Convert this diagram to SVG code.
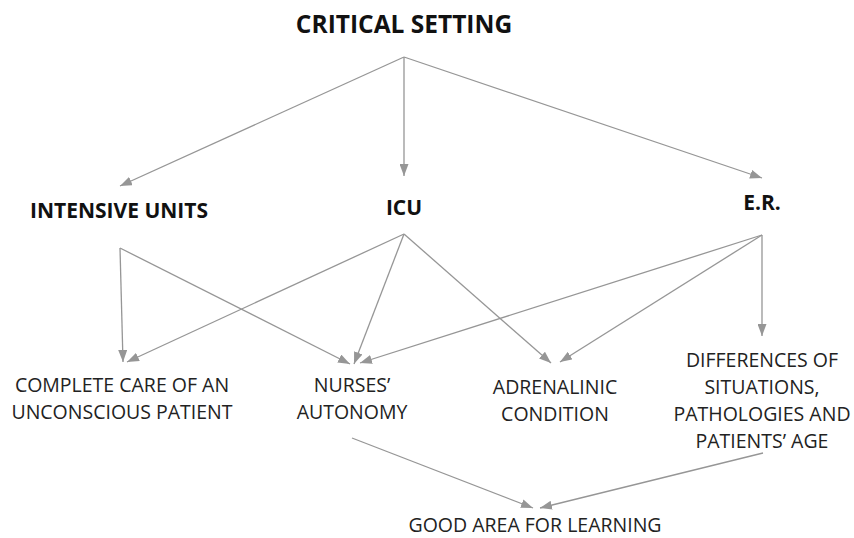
<svg xmlns="http://www.w3.org/2000/svg" width="854" height="538" viewBox="0 0 854 538">
<defs>
<marker id="ah" markerWidth="12" markerHeight="9" refX="12" refY="4.5" orient="auto" markerUnits="userSpaceOnUse">
<path d="M0,0 L12,4.5 L0,9 z" fill="#969696"/>
</marker>
<style>
.e{stroke:#969696;stroke-width:1.3;fill:none;marker-end:url(#ah)}
.h{font-family:"Open Sans","Liberation Sans",sans-serif;font-weight:bold;fill:#111;text-anchor:middle;font-size:21px}
.t{font-family:"Open Sans","Liberation Sans",sans-serif;fill:#222;text-anchor:middle;font-size:19.5px}
</style>
</defs>
<rect width="854" height="538" fill="#fff"/>
<g id="connectors">
<line class="e" x1="404" y1="57" x2="120" y2="186"/>
<line class="e" x1="404" y1="57" x2="404" y2="176"/>
<line class="e" x1="404" y1="57" x2="762" y2="178"/>
<line class="e" x1="120" y1="248" x2="123" y2="362"/>
<line class="e" x1="120" y1="248" x2="350" y2="364"/>
<line class="e" x1="404" y1="234" x2="127" y2="362"/>
<line class="e" x1="404" y1="234" x2="354" y2="364"/>
<line class="e" x1="404" y1="234" x2="551" y2="363"/>
<line class="e" x1="762" y1="235" x2="360" y2="363"/>
<line class="e" x1="762" y1="235" x2="560" y2="362"/>
<line class="e" x1="762" y1="235" x2="762" y2="336"/>
<line class="e" x1="352" y1="438" x2="533" y2="508"/>
<line class="e" x1="763" y1="453" x2="540" y2="508"/>
</g>
<g id="critical-setting"><text class="h" x="404" y="33" style="font-size:24.5px">CRITICAL SETTING</text></g>
<g id="intensive-units"><text class="h" x="119" y="218">INTENSIVE UNITS</text></g>
<g id="icu"><text class="h" x="404" y="215">ICU</text></g>
<g id="er"><text class="h" x="762" y="210">E.R.</text></g>
<g id="complete-care"><text class="t" x="122" y="392">COMPLETE CARE OF AN</text><text class="t" x="122" y="419">UNCONSCIOUS PATIENT</text></g>
<g id="nurses-autonomy"><text class="t" x="352" y="392">NURSES’</text><text class="t" x="352" y="419">AUTONOMY</text></g>
<g id="adrenalinic"><text class="t" x="555" y="394">ADRENALINIC</text><text class="t" x="555" y="421">CONDITION</text></g>
<g id="differences"><text class="t" x="762" y="367">DIFFERENCES OF</text><text class="t" x="762" y="394">SITUATIONS,</text><text class="t" x="762" y="421">PATHOLOGIES AND</text><text class="t" x="762" y="448">PATIENTS’ AGE</text></g>
<g id="good-area"><text class="t" x="535" y="532">GOOD AREA FOR LEARNING</text></g>
</svg>
